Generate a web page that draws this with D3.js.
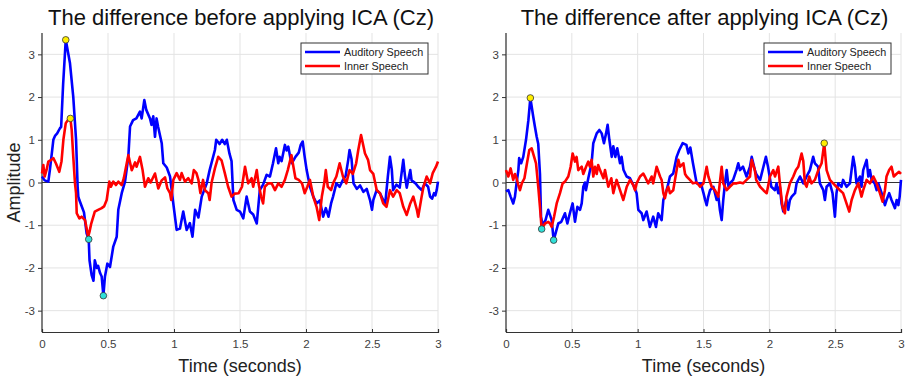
<!DOCTYPE html>
<html><head><meta charset="utf-8">
<script src="https://cdn.jsdelivr.net/npm/d3@7"></script>
<style>
body{margin:0;background:#fff;}
svg{display:block;font-family:"Liberation Sans",Arial,sans-serif;}
</style></head><body>
<svg id="c" width="914" height="384"></svg>
<script>
const titles = ["The difference before applying ICA (Cz)", "The difference after applying ICA (Cz)"];
const seriesNames = ["Auditory Speech", "Inner Speech"];
const xTicks = [0, 0.5, 1, 1.5, 2, 2.5, 3];
const yTicks = [-3, -2, -1, 0, 1, 2, 3];

// [time (s), amplitude]
const beforeAuditory = [[0,0.14],[0.02,0.05],[0.048,0.02],[0.06,0.3],[0.075,0.7],[0.086,1.0],[0.1,1.1],[0.115,1.15],[0.136,1.27],[0.145,1.3],[0.16,2.3],[0.18,3.34],[0.212,2.79],[0.237,2.0],[0.258,1.0],[0.27,-0.1],[0.275,-0.33],[0.283,-0.41],[0.3,-0.55],[0.318,-0.7],[0.338,-1.19],[0.354,-1.33],[0.36,-1.82],[0.376,-2.17],[0.39,-2.3],[0.4,-1.82],[0.415,-2.0],[0.425,-1.95],[0.44,-2.12],[0.452,-2.2],[0.465,-2.65],[0.477,-2.2],[0.495,-1.9],[0.515,-1.98],[0.54,-1.5],[0.566,-1.27],[0.578,-0.64],[0.604,-0.25],[0.629,0.02],[0.654,0.6],[0.667,1.31],[0.69,1.46],[0.715,1.5],[0.742,1.66],[0.755,1.5],[0.775,1.93],[0.79,1.7],[0.818,1.5],[0.83,1.35],[0.843,1.55],[0.856,1.07],[0.868,1.5],[0.88,1.3],[0.907,0.92],[0.919,0.45],[0.945,0.35],[0.97,0.14],[0.995,-0.5],[1.02,-1.11],[1.045,-1.08],[1.07,-0.68],[1.096,-1.11],[1.12,-0.95],[1.14,-1.27],[1.16,-0.64],[1.185,-0.82],[1.21,-0.33],[1.248,-0.02],[1.27,0.29],[1.31,0.76],[1.32,1.0],[1.345,0.9],[1.365,1.0],[1.385,0.9],[1.4,1.0],[1.42,0.68],[1.436,0.5],[1.45,-0.41],[1.475,-0.64],[1.5,-0.68],[1.525,-0.84],[1.55,-0.33],[1.575,-0.68],[1.6,-0.75],[1.627,-0.96],[1.65,-0.18],[1.675,-0.05],[1.702,0.18],[1.727,0.14],[1.75,0.45],[1.773,0.8],[1.79,0.45],[1.8,0.6],[1.815,0.5],[1.84,0.88],[1.853,0.75],[1.866,0.84],[1.88,0.6],[1.892,0.45],[1.92,0.6],[1.945,0.7],[1.96,0.88],[1.975,0.96],[1.99,0.6],[2.005,0.29],[2.03,-0.1],[2.055,-0.33],[2.08,-0.49],[2.105,-0.42],[2.13,-0.8],[2.15,-0.6],[2.17,-0.8],[2.19,-0.49],[2.205,-0.33],[2.23,-0.02],[2.255,-0.1],[2.28,0.06],[2.3,0.15],[2.32,0.53],[2.33,0.76],[2.345,0.55],[2.36,-0.02],[2.385,-0.15],[2.41,-0.07],[2.435,-0.22],[2.46,-0.15],[2.485,-0.41],[2.5,-0.64],[2.51,-0.41],[2.535,-0.18],[2.56,-0.25],[2.585,-0.41],[2.6,-0.5],[2.62,0.14],[2.636,0.6],[2.65,0.3],[2.66,-0.18],[2.685,-0.05],[2.71,-0.12],[2.737,0.53],[2.75,0.15],[2.763,-0.12],[2.79,0.29],[2.8,0.05],[2.83,-0.02],[2.85,-0.1],[2.876,-0.18],[2.9,-0.02],[2.925,-0.1],[2.94,-0.33],[2.955,-0.38],[2.97,-0.25],[2.98,-0.3],[2.99,-0.18],[3.0,0.02]];

const beforeInner = [[0,0.21],[0.01,0.41],[0.02,0.14],[0.035,0.3],[0.048,0.49],[0.07,0.53],[0.086,0.57],[0.105,0.45],[0.131,0.25],[0.148,0.5],[0.162,1.0],[0.18,1.39],[0.198,1.47],[0.215,1.5],[0.225,1.23],[0.237,0.6],[0.25,-0.02],[0.258,-0.25],[0.263,-0.72],[0.283,-0.84],[0.3,-0.8],[0.326,-0.88],[0.35,-1.27],[0.36,-1.15],[0.373,-0.96],[0.4,-0.68],[0.425,-0.64],[0.452,-0.6],[0.47,-0.56],[0.49,-0.41],[0.51,0.02],[0.522,-0.1],[0.54,0.02],[0.56,-0.06],[0.578,0.02],[0.604,-0.06],[0.62,0.1],[0.642,0.45],[0.654,0.64],[0.68,0.29],[0.705,0.47],[0.717,0.37],[0.742,0.6],[0.762,0.29],[0.78,-0.1],[0.805,0.1],[0.823,0.0],[0.856,0.21],[0.881,-0.14],[0.907,0.05],[0.932,0.12],[0.95,-0.14],[0.97,-0.25],[0.979,-0.41],[0.995,0.06],[1.02,0.22],[1.045,0.06],[1.058,0.22],[1.083,0.02],[1.108,0.1],[1.134,-0.02],[1.15,0.29],[1.17,0.22],[1.185,0.06],[1.2,-0.25],[1.22,0.06],[1.235,-0.18],[1.26,-0.25],[1.27,-0.41],[1.285,0.0],[1.31,0.33],[1.335,0.6],[1.36,0.52],[1.385,0.22],[1.41,-0.1],[1.436,-0.33],[1.46,-0.26],[1.49,-0.25],[1.515,-0.1],[1.538,0.37],[1.562,-0.02],[1.588,0.1],[1.6,-0.1],[1.627,0.29],[1.64,-0.02],[1.66,-0.33],[1.675,-0.49],[1.688,-0.1],[1.714,-0.02],[1.74,-0.02],[1.765,-0.18],[1.79,-0.02],[1.815,-0.1],[1.84,0.06],[1.862,0.29],[1.89,0.64],[1.9,0.45],[1.92,0.1],[1.945,0.06],[1.97,-0.02],[1.99,-0.25],[2.01,-0.1],[2.03,0.06],[2.055,-0.33],[2.08,-0.57],[2.1,-0.88],[2.12,-0.33],[2.138,-0.02],[2.15,0.29],[2.165,-0.1],[2.19,-0.18],[2.205,-0.02],[2.23,0.14],[2.255,0.45],[2.28,0.14],[2.305,-0.02],[2.33,0.29],[2.355,0.2],[2.38,0.45],[2.396,0.76],[2.417,1.11],[2.447,0.68],[2.47,0.53],[2.485,0.29],[2.51,0.2],[2.536,-0.18],[2.56,-0.25],[2.585,-0.49],[2.61,-0.57],[2.636,-0.18],[2.66,-0.33],[2.687,-0.18],[2.71,-0.25],[2.737,-0.57],[2.763,-0.76],[2.79,-0.49],[2.813,-0.33],[2.84,-0.64],[2.85,-0.8],[2.876,-0.33],[2.89,-0.1],[2.914,0.14],[2.94,-0.02],[2.96,0.22],[2.985,0.37],[3.0,0.49]];

const afterAuditory = [[0,-0.21],[0.018,-0.18],[0.035,-0.33],[0.055,-0.49],[0.068,-0.33],[0.08,-0.02],[0.094,0.29],[0.1,0.57],[0.115,0.45],[0.131,0.6],[0.152,1.0],[0.17,1.46],[0.185,1.98],[0.207,1.54],[0.22,1.3],[0.233,1.07],[0.245,0.9],[0.258,0.2],[0.266,-0.8],[0.278,-1.0],[0.3,-0.88],[0.321,-0.64],[0.334,-0.76],[0.347,-0.88],[0.362,-1.35],[0.38,-1.15],[0.397,-0.96],[0.42,-0.92],[0.448,-0.72],[0.466,-0.96],[0.485,-0.72],[0.506,-0.49],[0.524,-0.92],[0.542,-0.57],[0.562,-0.64],[0.575,-0.49],[0.587,-0.1],[0.6,0.0],[0.607,-0.18],[0.625,0.1],[0.65,0.45],[0.663,0.92],[0.689,1.15],[0.709,1.23],[0.727,1.15],[0.744,0.92],[0.76,1.15],[0.772,1.35],[0.785,1.0],[0.803,0.6],[0.815,0.85],[0.83,0.6],[0.845,0.8],[0.866,0.45],[0.878,0.6],[0.892,0.3],[0.916,0.14],[0.942,0.1],[0.967,-0.06],[0.992,-0.25],[1.005,-0.64],[1.03,-0.72],[1.043,-0.88],[1.068,-0.68],[1.093,-1.04],[1.118,-0.8],[1.139,-1.04],[1.156,-0.72],[1.182,-0.88],[1.195,-0.41],[1.22,-0.18],[1.233,-0.02],[1.245,0.14],[1.27,0.21],[1.296,0.6],[1.316,0.76],[1.342,0.92],[1.37,0.88],[1.385,0.68],[1.4,0.82],[1.42,0.45],[1.435,0.2],[1.448,-0.02],[1.48,-0.02],[1.5,-0.25],[1.512,-0.4],[1.524,-0.53],[1.535,-0.35],[1.55,-0.18],[1.575,-0.1],[1.6,-0.41],[1.612,-0.3],[1.625,-0.65],[1.638,-0.88],[1.65,-0.41],[1.663,-0.02],[1.676,0.29],[1.69,-0.1],[1.7,-0.02],[1.725,0.06],[1.75,0.29],[1.764,0.45],[1.777,0.29],[1.8,0.37],[1.827,0.14],[1.853,0.37],[1.866,0.6],[1.89,0.29],[1.9,0.2],[1.93,0.06],[1.955,0.37],[1.974,0.6],[1.99,0.37],[2.015,-0.1],[2.043,-0.18],[2.055,-0.02],[2.068,-0.25],[2.08,-0.1],[2.093,-0.49],[2.106,-0.68],[2.13,-0.41],[2.144,-0.64],[2.156,-0.41],[2.17,-0.33],[2.195,-0.25],[2.207,-0.02],[2.233,0.14],[2.258,-0.02],[2.283,0.14],[2.308,0.29],[2.333,0.6],[2.346,0.45],[2.37,0.37],[2.384,-0.02],[2.41,-0.18],[2.422,-0.41],[2.435,-0.1],[2.46,-0.02],[2.48,-0.25],[2.498,-0.8],[2.51,-0.25],[2.523,-0.02],[2.548,-0.1],[2.56,0.06],[2.586,-0.1],[2.612,-0.02],[2.637,0.6],[2.65,0.37],[2.662,-0.02],[2.688,0.14],[2.7,-0.1],[2.713,0.29],[2.739,0.53],[2.752,0.14],[2.764,0.29],[2.777,0.06],[2.8,-0.02],[2.815,-0.18],[2.828,-0.02],[2.853,-0.25],[2.878,-0.53],[2.89,-0.41],[2.91,-0.25],[2.928,-0.41],[2.954,-0.6],[2.967,-0.41],[2.98,-0.53],[2.99,-0.33],[3.0,0.06]];

const afterInner = [[0,0.29],[0.018,0.14],[0.035,0.33],[0.055,0.06],[0.068,0.2],[0.08,0.1],[0.094,-0.06],[0.106,-0.18],[0.12,-0.02],[0.14,0.1],[0.157,0.41],[0.177,0.76],[0.195,0.8],[0.212,0.62],[0.228,0.45],[0.245,-0.1],[0.258,-0.57],[0.271,-1.09],[0.296,-0.96],[0.321,-0.92],[0.334,-0.96],[0.347,-1.04],[0.365,-0.8],[0.385,-0.49],[0.41,-0.25],[0.43,-0.02],[0.448,0.02],[0.473,0.14],[0.491,0.37],[0.506,0.68],[0.524,0.49],[0.536,0.6],[0.549,0.29],[0.575,0.37],[0.587,0.2],[0.608,0.37],[0.625,0.49],[0.637,0.37],[0.65,0.53],[0.663,0.14],[0.676,0.37],[0.689,0.2],[0.7,0.41],[0.714,0.29],[0.74,0.1],[0.752,0.29],[0.777,-0.1],[0.8,0.1],[0.815,-0.25],[0.84,0.06],[0.866,-0.18],[0.891,-0.41],[0.917,-0.1],[0.942,0.06],[0.967,-0.06],[0.98,-0.18],[0.992,-0.02],[1.018,0.14],[1.043,0.21],[1.055,0.14],[1.08,-0.02],[1.106,0.14],[1.118,-0.02],[1.144,0.37],[1.17,0.14],[1.182,0.06],[1.195,-0.25],[1.207,-0.37],[1.22,-0.18],[1.233,-0.1],[1.245,-0.25],[1.27,-0.18],[1.296,0.29],[1.309,0.53],[1.322,0.37],[1.347,0.45],[1.36,0.2],[1.372,0.14],[1.397,0.06],[1.42,-0.02],[1.448,0.0],[1.474,-0.1],[1.5,-0.02],[1.524,0.37],[1.537,0.14],[1.562,-0.1],[1.587,-0.18],[1.612,-0.33],[1.638,0.37],[1.65,-0.02],[1.676,-0.18],[1.7,-0.1],[1.727,-0.02],[1.752,-0.02],[1.777,0.0],[1.8,-0.02],[1.827,0.06],[1.853,0.14],[1.866,0.53],[1.89,0.29],[1.9,0.06],[1.93,-0.1],[1.955,-0.18],[1.98,-0.25],[2.005,0.14],[2.03,0.29],[2.043,0.14],[2.068,0.37],[2.08,-0.02],[2.1,-0.57],[2.118,-0.72],[2.13,-0.33],[2.156,-0.02],[2.182,0.14],[2.202,0.29],[2.22,0.37],[2.245,0.68],[2.258,0.5],[2.27,-0.02],[2.283,-0.1],[2.303,0.14],[2.32,-0.02],[2.346,0.06],[2.372,0.29],[2.397,0.45],[2.417,0.92],[2.435,0.29],[2.46,0.06],[2.485,-0.02],[2.51,-0.1],[2.536,-0.18],[2.56,-0.25],[2.586,-0.49],[2.607,-0.68],[2.625,-0.41],[2.65,-0.18],[2.676,-0.02],[2.7,-0.33],[2.713,-0.18],[2.739,0.06],[2.764,-0.02],[2.79,0.14],[2.815,-0.02],[2.84,-0.25],[2.86,-0.45],[2.878,-0.18],[2.89,0.14],[2.91,0.29],[2.928,0.37],[2.945,0.14],[2.965,0.2],[2.985,0.25],[3.0,0.2]];

// peak / trough markers: [time, amplitude, kind]
const beforeMarkers = [[0.18,3.34,"max"],[0.215,1.5,"max"],[0.354,-1.33,"min"],[0.465,-2.65,"min"]];
const afterMarkers = [[0.185,1.98,"max"],[2.417,0.92,"max"],[0.271,-1.09,"min"],[0.362,-1.35,"min"]];

const panels = [
  {title: titles[0], series: [beforeAuditory, beforeInner], markers: beforeMarkers, left: 42, right: 438, ylabel: "Amplitude"},
  {title: titles[1], series: [afterAuditory, afterInner], markers: afterMarkers, left: 506, right: 901, ylabel: null}
];
const colors = ["#0000ff", "#ff0000"];
const plotTop = 33, plotBottom = 332;
const svg = d3.select("#c");

panels.forEach(p => {
  const x = d3.scaleLinear().domain([0, 3]).range([p.left, p.right]);
  const y = d3.scaleLinear().domain([-3.5, 3.5]).range([plotBottom, plotTop]);
  const g = svg.append("g");

  // grid
  g.selectAll(".vg").data(xTicks).join("line")
    .attr("x1", d => x(d)).attr("x2", d => x(d)).attr("y1", plotTop).attr("y2", plotBottom)
    .attr("stroke", "#e3e3e3").attr("stroke-width", 1);
  g.selectAll(".hg").data(yTicks).join("line")
    .attr("x1", p.left).attr("x2", p.right).attr("y1", d => y(d)).attr("y2", d => y(d))
    .attr("stroke", "#e3e3e3").attr("stroke-width", 1);

  // axes
  const xa = g.append("g").attr("transform", `translate(0,${plotBottom})`)
    .call(d3.axisBottom(x).tickValues(xTicks).tickSize(-3).tickPadding(8).tickFormat(d3.format("")));
  const ya = g.append("g").attr("transform", `translate(${p.left},0)`)
    .call(d3.axisLeft(y).tickValues(yTicks).tickSize(4).tickPadding(3).tickFormat(d => d3.format("")(d).replace("−","-")));
  [xa, ya].forEach(a => {
    a.select(".domain").attr("stroke", "#333").attr("stroke-width", 1.2);
    a.selectAll(".tick line").attr("stroke", "#333");
    a.selectAll(".tick text").attr("fill", "#404040").style("font-size", "11.5px")
      .style("font-family", "'Liberation Sans', Arial, sans-serif");
  });
  ya.select(".domain").attr("d", `M0,${plotBottom}V${plotTop}`);

  // zero line
  g.append("line").attr("x1", p.left).attr("x2", p.right).attr("y1", y(0)).attr("y2", y(0))
    .attr("stroke", "#333").attr("stroke-width", 1);

  // series
  const line = d3.line().x(d => x(d[0])).y(d => y(d[1]));
  p.series.forEach((s, i) => {
    g.append("path").datum(s).attr("d", line).attr("fill", "none")
      .attr("stroke", colors[i]).attr("stroke-width", 2.6).attr("stroke-linejoin", "round");
  });

  // markers
  g.selectAll(".mk").data(p.markers).join("circle")
    .attr("cx", d => x(d[0])).attr("cy", d => y(d[1])).attr("r", 3.3)
    .attr("fill", d => d[2] === "max" ? "#ffee00" : "#2fe0d8")
    .attr("stroke", "#333").attr("stroke-width", 0.8);

  // title
  g.append("text").attr("x", (p.left + p.right) / 2 + 1).attr("y", 25).attr("text-anchor", "middle")
    .style("font-size", "22px").attr("fill", "#111").text(p.title);
  // x label
  g.append("text").attr("x", (p.left + p.right) / 2).attr("y", 372).attr("text-anchor", "middle")
    .style("font-size", "18px").attr("fill", "#222").text("Time (seconds)");
  if (p.ylabel) {
    g.append("text").attr("transform", `translate(20,${(plotTop + plotBottom) / 2}) rotate(-90)`)
      .attr("text-anchor", "middle").style("font-size", "18px").attr("fill", "#222").text(p.ylabel);
  }

  // legend
  const lx = p.right - 137, ly = 43;
  const lg = g.append("g").attr("transform", `translate(${lx},${ly})`);
  lg.append("rect").attr("width", 127).attr("height", 31).attr("fill", "#fff")
    .attr("stroke", "#333").attr("stroke-width", 1);
  seriesNames.forEach((n, i) => {
    const yy = 9 + i * 14;
    lg.append("line").attr("x1", 4).attr("x2", 39).attr("y1", yy).attr("y2", yy)
      .attr("stroke", colors[i]).attr("stroke-width", 2.4);
    lg.append("text").attr("x", 43).attr("y", yy + 4).style("font-size", "10.8px").attr("fill", "#222").text(n);
  });
});
</script>
</body></html>
